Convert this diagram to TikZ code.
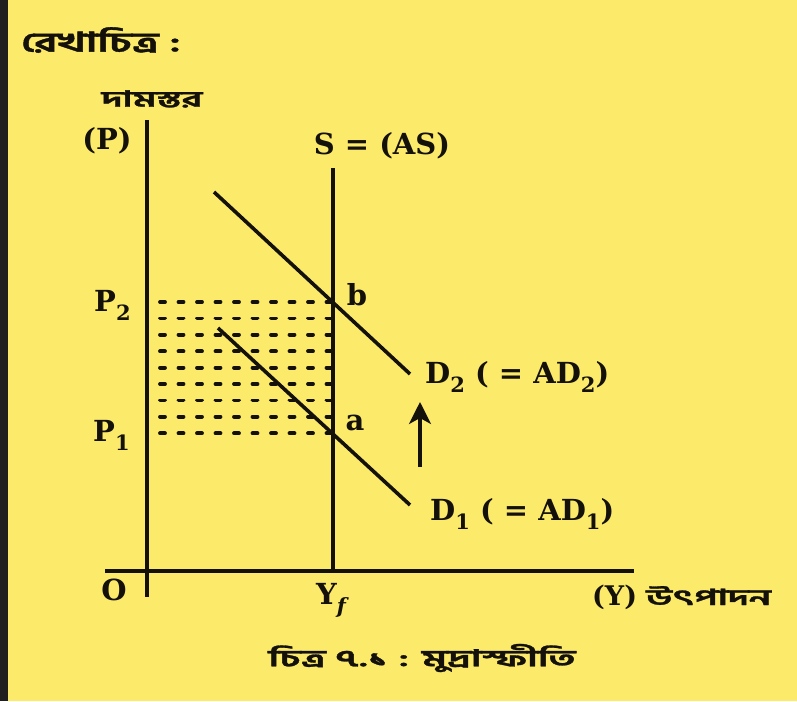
\documentclass[tikz,border=0pt]{standalone}
\usepackage{fontspec}
\setmainfont{DejaVu Serif}
\newfontfamily\bn[Script=Bengali, BoldFeatures={FakeBold=1.2}]{Hind Siliguri}
\usetikzlibrary{arrows.meta}
\definecolor{bg}{RGB}{252,234,106}
\definecolor{ink}{RGB}{20,16,10}
\newcommand{\lowsub}[1]{\raisebox{-0.32em}{\fontsize{21}{21}\selectfont #1}}
\newcommand{\bnw}[1]{\scalebox{1.75}[1]{#1}}
\tikzset{
  lbl/.style={font=\fontsize{29}{31}\selectfont\bfseries, text=ink, inner sep=0pt},
  bnlbl/.style={text=ink, inner sep=0pt},
  axis/.style={draw=ink, line width=3.6pt},
  curve/.style={draw=ink, line width=3.6pt},
  hatch/.style={draw=ink, line width=3.8pt, line cap=round, dash pattern=on 5pt off 13.5pt},
}
\begin{document}
\begin{tikzpicture}[x=1pt,y=-1pt]
\fill[bg] (0,0) rectangle (797,701);
\fill[black!88] (0,0) rectangle (8,701);
\useasboundingbox (0,0) rectangle (797,701);
% coordinates
\coordinate (ytop) at (147,120);
\coordinate (ybot) at (147,597);
\coordinate (xl) at (105,571);
\coordinate (xr) at (634,571);
\coordinate (stop) at (333,168);
\coordinate (sbot) at (333,571);
\coordinate (d2s) at (214,192);
\coordinate (d2e) at (410,374);
\coordinate (d1s) at (218,328);
\coordinate (d1e) at (410,505);
\coordinate (arS) at (420,467);
\coordinate (arE) at (420,402);
% dotted region
\foreach \k in {0,...,8}{
  \coordinate (hl\k) at (160,{302+\k*16.4});
  \coordinate (hr\k) at (333,{302+\k*16.4});
  \draw[hatch] (hl\k) -- (hr\k);
}
% axes
\draw[axis] (ytop) -- (ybot);
\draw[axis] (xl) -- (xr);
\draw[axis] (stop) -- (sbot);
% demand curves
\draw[curve] (d2s) -- (d2e);
\draw[curve] (d1s) -- (d1e);
% arrow
\draw[draw=ink, line width=3.2pt, -{Stealth[length=22pt,width=22pt,inset=6pt]}] (arS) -- (arE);
% labels
\node[bnlbl, font=\bn\fontsize{27}{30}\selectfont\bfseries] (title) at (101,40) {\scalebox{1.6}[1]{রেখাচিত্র :}};
\node[bnlbl, font=\bn\fontsize{22}{24}\selectfont\bfseries] (dam) at (152,99) {\bnw{দামস্তর}};
\node[lbl] (P) at (107,141) {(P)};
\node[lbl] (S) at (382,146) {S = (AS)};
\node[lbl] (b) at (357,295) {b};
\node[lbl] (a) at (355,423) {a};
\node[lbl, anchor=base west] (P2) at (94,311) {P\lowsub{2}};
\node[lbl, anchor=base west] (P1) at (93,441) {P\lowsub{1}};
\node[lbl, anchor=base west] (D2) at (425,383) {D\lowsub{2} ( = AD\lowsub{2})};
\node[lbl, anchor=base west] (D1) at (430,520) {D\lowsub{1} ( = AD\lowsub{1})};
\node[lbl] (O) at (114,590) {O};
\node[lbl, anchor=base west] (Yf) at (316,604) {Y\lowsub{\itshape f}};
\node[lbl, anchor=base west, font=\fontsize{27}{30}\selectfont\bfseries] (Yout) at (592,605) {(Y) {\bn\fontsize{22}{24}\selectfont\bfseries\bnw{উৎপাদন}}};
\node[bnlbl, font=\bn\fontsize{23}{28}\selectfont\bfseries] (cap) at (422,658) {\bnw{চিত্র ৭.১ : মুদ্রাস্ফীতি}};
\end{tikzpicture}
\end{document}
